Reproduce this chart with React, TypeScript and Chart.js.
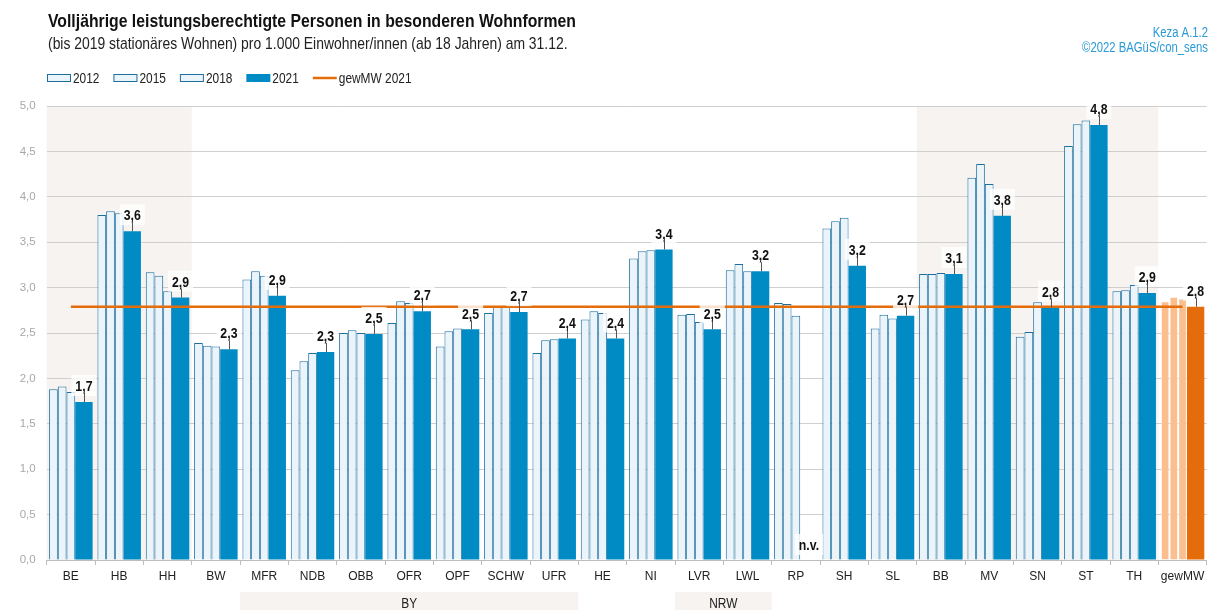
import React, { useEffect, useRef } from 'react';
import { Chart, registerables } from 'chart.js';

Chart.register(...registerables);

// ---------- data ----------
const categories = ['BE', 'HB', 'HH', 'BW', 'MFR', 'NDB', 'OBB', 'OFR', 'OPF', 'SCHW', 'UFR', 'HE', 'NI', 'LVR', 'LWL', 'RP', 'SH', 'SL', 'BB', 'MV', 'SN', 'ST', 'TH', 'gewMW'];
const values2012 = [1.88, 3.80, 3.17, 2.39, 3.09, 2.09, 2.50, 2.61, 2.35, 2.72, 2.28, 2.65, 3.32, 2.70, 3.19, 2.83, 3.65, 2.55, 3.15, 4.21, 2.46, 4.56, 2.96, 2.85];
const values2015 = [1.91, 3.84, 3.13, 2.36, 3.18, 2.19, 2.53, 2.85, 2.52, 2.79, 2.42, 2.74, 3.40, 2.71, 3.26, 2.82, 3.73, 2.70, 3.15, 4.36, 2.51, 4.80, 2.97, 2.90];
const values2018 = [1.85, 3.82, 2.96, 2.35, 3.13, 2.28, 2.50, 2.83, 2.55, 2.80, 2.43, 2.72, 3.41, 2.62, 3.18, 2.69, 3.77, 2.66, 3.16, 4.14, 2.84, 4.84, 3.03, 2.88];
const values2021: (number | null)[] = [1.74, 3.62, 2.89, 2.32, 2.91, 2.29, 2.49, 2.74, 2.54, 2.73, 2.44, 2.44, 3.42, 2.54, 3.18, null, 3.24, 2.69, 3.15, 3.79, 2.78, 4.79, 2.94, 2.79];
const mean2021 = 2.79;
const seriesLabels = ['2012', '2015', '2018', '2021'];
const meanLabel = 'gewMW 2021';
const yTickValues = [0, 0.5, 1, 1.5, 2, 2.5, 3, 3.5, 4, 4.5, 5];
const shadedGroups = [['BE', 'HH'], ['BB', 'TH']];
const bracketGroups = [
  { label: 'BY', from: 'MFR', to: 'UFR' },
  { label: 'NRW', from: 'LVR', to: 'LWL' },
];
const titleText = 'Volljährige leistungsberechtigte Personen in besonderen Wohnformen';
const subtitleText = '(bis 2019 stationäres Wohnen) pro 1.000 Einwohner/innen (ab 18 Jahren) am 31.12.';
const sourceLines = ['Keza A.1.2', '©2022 BAGüS/con_sens'];
const missingText = 'n.v.';
const meanCategory = 'gewMW';

// ---------- styles ----------
const FONT = '"Liberation Sans", Arial, sans-serif';
const NARROW = 0.82;
const HEAD_NARROW = 0.887;
const LIGHT_BLUE = '#eaf4fa';
const DARK_BORDER = '#1f6f9e';
const BLUE = '#008bc5';
const LIGHT_ORANGE = '#fbbf8f';
const ORANGE = '#e46c0a';
const SHADE = '#f6f3f0';

const fmt = (v: number) => v.toFixed(1).replace('.', ',');
const isMean = (i: number) => categories[i] === meanCategory;

function setFont(ctx: CanvasRenderingContext2D, size: number, bold = false) {
  ctx.font = `${bold ? 'bold ' : ''}${size}px ${FONT}`;
}
function narrowWidth(ctx: CanvasRenderingContext2D, text: string, k = NARROW) {
  return ctx.measureText(text).width * k;
}
function narrowText(ctx: CanvasRenderingContext2D, text: string, x: number, y: number, k = NARROW) {
  ctx.save();
  ctx.translate(x, y);
  ctx.scale(k, 1);
  ctx.fillText(text, 0, 0);
  ctx.restore();
}

const decorPlugin = {
  id: 'decor',
  beforeDraw(chart: any) {
    const { ctx, chartArea, scales } = chart;
    const x = scales.x;
    const half = (x.getPixelForValue(1) - x.getPixelForValue(0)) / 2;
    ctx.save();
    ctx.fillStyle = SHADE;
    shadedGroups.forEach(([a, b]) => {
      const l = x.getPixelForValue(categories.indexOf(a)) - half;
      const r = x.getPixelForValue(categories.indexOf(b)) + half;
      ctx.fillRect(l, chartArea.top, r - l, chartArea.bottom - chartArea.top);
    });
    bracketGroups.forEach((g) => {
      const l = x.getPixelForValue(categories.indexOf(g.from)) - half;
      const r = x.getPixelForValue(categories.indexOf(g.to)) + half;
      ctx.fillStyle = SHADE;
      ctx.fillRect(l, 592, r - l, 18);
      ctx.fillStyle = '#222';
      setFont(ctx, 14.5);
      ctx.textAlign = 'center';
      ctx.textBaseline = 'middle';
      narrowText(ctx, g.label, (l + r) / 2, 604);
    });
    ctx.restore();
  },
  afterDatasetsDraw(chart: any) {
    const { ctx, scales } = chart;
    const meta = chart.getDatasetMeta(3);
    ctx.save();
    setFont(ctx, 15, true);
    ctx.textAlign = 'center';
    ctx.textBaseline = 'middle';
    meta.data.forEach((el: any, i: number) => {
      const v = values2021[i];
      const text = v == null ? missingText : fmt(v);
      const w = narrowWidth(ctx, text) + 8;
      const cx = el.x;
      const cy = v == null ? scales.y.getPixelForValue(0) - 15 : el.y - 16;
      ctx.fillStyle = 'rgba(255,255,255,0.8)';
      ctx.fillRect(cx - w / 2, cy - 11, w, 21);
      if (v != null) {
        ctx.strokeStyle = '#555';
        ctx.lineWidth = 1;
        ctx.beginPath();
        ctx.moveTo(Math.round(cx) + 0.5, cy + 7);
        ctx.lineTo(Math.round(cx) + 0.5, el.y);
        ctx.stroke();
      }
      ctx.fillStyle = '#111';
      narrowText(ctx, text, cx, cy + 1);
    });
    ctx.restore();
  },
  afterDraw(chart: any) {
    const { ctx } = chart;
    ctx.save();
    ctx.textBaseline = 'middle';
    ctx.textAlign = 'left';
    ctx.fillStyle = '#111';
    setFont(ctx, 17.8, true);
    narrowText(ctx, titleText, 48, 22, HEAD_NARROW);
    ctx.fillStyle = '#222';
    setFont(ctx, 15.7);
    narrowText(ctx, subtitleText, 48, 45, HEAD_NARROW);
    // source
    ctx.textAlign = 'right';
    ctx.fillStyle = '#2a9ad6';
    setFont(ctx, 13.8);
    narrowText(ctx, sourceLines[0], 1208, 33);
    narrowText(ctx, sourceLines[1], 1208, 48);
    // legend
    ctx.textAlign = 'left';
    setFont(ctx, 14.5);
    let lx = 47;
    const ly = 78;
    seriesLabels.forEach((lab, i) => {
      if (i < 3) {
        ctx.fillStyle = LIGHT_BLUE;
        ctx.fillRect(lx, ly - 4, 24, 8);
        ctx.strokeStyle = DARK_BORDER;
        ctx.lineWidth = 1;
        ctx.strokeRect(lx + 0.5, ly - 3.5, 23, 7);
      } else {
        ctx.fillStyle = BLUE;
        ctx.fillRect(lx, ly - 4, 24, 8);
      }
      ctx.fillStyle = '#222';
      narrowText(ctx, lab, lx + 26, ly + 1);
      lx += 26 + narrowWidth(ctx, lab) + 14;
    });
    ctx.strokeStyle = ORANGE;
    ctx.lineWidth = 2.5;
    ctx.beginPath();
    ctx.moveTo(lx, ly);
    ctx.lineTo(lx + 24, ly);
    ctx.stroke();
    ctx.fillStyle = '#222';
    narrowText(ctx, meanLabel, lx + 26, ly + 1);
    ctx.restore();
  },
};

export default function App() {
  const ref = useRef<HTMLCanvasElement | null>(null);
  useEffect(() => {
    document.body.style.margin = '0';
    if (!ref.current) return;
    const lightColors = categories.map((_, i) => (isMean(i) ? LIGHT_ORANGE : LIGHT_BLUE));
    const lightBorders = categories.map((_, i) => (isMean(i) ? 'rgba(255,255,255,0.7)' : DARK_BORDER));
    const darkColors = categories.map((_, i) => (isMean(i) ? ORANGE : BLUE));
    const lightSeries = [values2012, values2015, values2018].map((data, k) => ({
      type: 'bar' as const,
      label: seriesLabels[k],
      data,
      backgroundColor: lightColors,
      borderColor: lightBorders,
      borderWidth: 1,
      categoryPercentage: 0.9,
      barPercentage: 1,
      order: 1,
    }));
    const chart = new Chart(ref.current, {
      data: {
        labels: categories,
        datasets: [
          ...lightSeries,
          {
            type: 'bar',
            label: seriesLabels[3],
            data: values2021,
            backgroundColor: darkColors,
            borderColor: darkColors,
            borderWidth: 0,
            categoryPercentage: 1.35,
            barPercentage: 4 / 3,
            order: 1,
          },
          {
            type: 'bar',
            label: '',
            data: [],
            categoryPercentage: 0.9,
            barPercentage: 1,
            order: 1,
          },
          {
            type: 'line',
            label: meanLabel,
            data: categories.map(() => mean2021),
            borderColor: ORANGE,
            borderWidth: 2.5,
            pointRadius: 0,
            fill: false,
            order: 0,
          },
        ] as any,
      },
      options: {
        responsive: false,
        animation: false,
        devicePixelRatio: 1,
        layout: { padding: { left: 0, right: 10.3, top: 106, bottom: 0 } },
        plugins: {
          legend: { display: false },
          tooltip: { enabled: false },
          title: { display: false },
        },
        scales: {
          x: {
            type: 'category',
            offset: true,
            grid: {
              display: true,
              drawOnChartArea: false,
              drawTicks: true,
              tickLength: 5,
              offset: true,
              color: '#bdbdbd',
            },
            border: { display: true, color: '#bdbdbd', width: 1 },
            ticks: {
              autoSkip: false,
              maxRotation: 0,
              padding: 4,
              color: '#222',
              font: { family: FONT, size: 12 },
            },
            afterFit: (s: any) => {
              s.height = 50;
            },
          },
          y: {
            min: 0,
            max: 5,
            afterBuildTicks: (s: any) => {
              s.ticks = yTickValues.map((v) => ({ value: v }));
            },
            grid: { color: '#cfcfcf', lineWidth: 1, drawTicks: false },
            border: { display: false },
            ticks: {
              padding: 11,
              color: '#a8a8a8',
              font: { family: FONT, size: 11.5 },
              callback: (v: any) => fmt(Number(v)),
            },
            afterFit: (s: any) => {
              s.width = 46.7;
            },
          },
        },
      },
      plugins: [decorPlugin],
    });
    return () => chart.destroy();
  }, []);
  return (
    <div style={{ width: 1217, height: 610, background: '#fff' }}>
      <canvas ref={ref} width={1217} height={610} style={{ display: 'block' }} />
    </div>
  );
}
